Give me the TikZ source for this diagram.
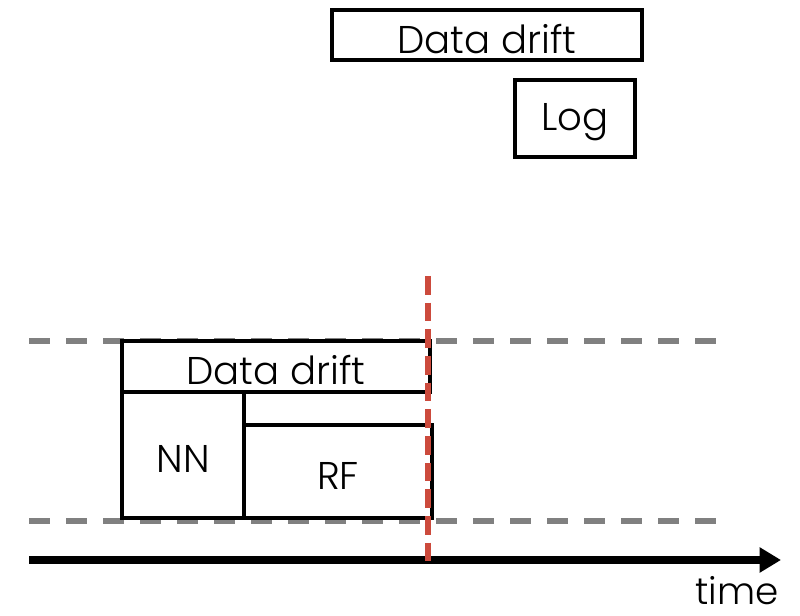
\documentclass[tikz,border=0pt]{standalone}
\usepackage{fontspec}
\setmainfont{Poppins}[UprightFont={* Light}]
\usetikzlibrary{arrows.meta}
\definecolor{dashgray}{HTML}{808080}
\definecolor{cutred}{HTML}{CC4A3C}
\tikzset{
  box/.style={draw=black, line width=3.5pt, fill=white, inner sep=0pt},
  txt/.style={font=\fontsize{29}{32}\selectfont, yshift=-3pt, inner sep=0pt},
  guide/.style={draw=dashgray, line width=3.8pt, dash pattern=on 16pt off 11.75pt},
  cut/.style={draw=cutred, line width=4.3pt, dash pattern=on 14pt off 6pt},
  axis/.style={draw=black, line width=6pt, -{Triangle[length=16pt, width=18pt]}},
}
\begin{document}
\begin{tikzpicture}[x=0.75pt, y=-0.75pt]
\useasboundingbox (0,0) rectangle (800,616);
% guides
\coordinate (g1s) at (29,341);
\coordinate (g1e) at (725,341);
\coordinate (g2s) at (29,521);
\coordinate (g2e) at (725,521);
\draw[guide] (g1s) -- (g1e);
\draw[guide] (g2s) -- (g2e);
% top boxes
\node[box, minimum width=232.5pt, minimum height=37.5pt, label={[txt]center:Data drift}] (dd1) at (487,35) {};
\node[box, minimum width=90pt, minimum height=57.75pt, label={[txt]center:Log}] (log) at (575,118.5) {};
% bottom boxes
\node[box, minimum width=231pt, minimum height=38.25pt, label={[txt]center:Data drift}] (dd2) at (276,366.5) {};
\node[box, minimum width=91.5pt, minimum height=94.5pt, label={[txt]center:NN}] (nn) at (183,455) {};
\node[box, minimum width=141pt, minimum height=69.75pt, label={[txt]center:RF}] (rf) at (338,471.5) {};
% axis
\coordinate (as) at (29,560);
\coordinate (ae) at (781,560);
\draw[axis] (as) -- (ae);
% cut line
\coordinate (cs) at (428,276);
\coordinate (ce) at (428,561);
\draw[cut] (cs) -- (ce);
\node[anchor=base east, inner sep=0pt, font=\fontsize{28}{32}\selectfont] (time) at (779,604) {time};
\end{tikzpicture}
\end{document}
